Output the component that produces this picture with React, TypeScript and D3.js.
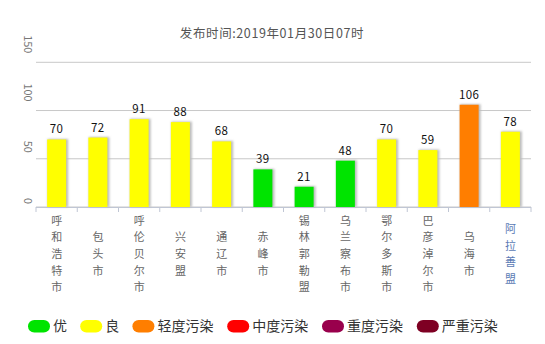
import React from "react";
import * as d3 from "d3";

const cities = ["呼和浩特市", "包头市", "呼伦贝尔市", "兴安盟", "通辽市", "赤峰市", "锡林郭勒盟", "乌兰察布市", "鄂尔多斯市", "巴彦淖尔市", "乌海市", "阿拉善盟"];
const aqi = [70, 72, 91, 88, 68, 39, 21, 48, 70, 59, 106, 78];
const yTicks = [0, 50, 100, 150];
const levels = ["优", "良", "轻度污染", "中度污染", "重度污染", "严重污染"];
const levelColors = ["#00e400", "#ffff00", "#ff7e00", "#ff0000", "#99004c", "#7e0023"];
const levelMax = [50, 100, 150, 200, 300, 500];
const title = "发布时间:2019年01月30日07时";

const FONT = "'Noto Sans CJK SC', 'DejaVu Sans', sans-serif";

function colorFor(v: number) {
  const i = levelMax.findIndex((m) => v <= m);
  return levelColors[i < 0 ? levelColors.length - 1 : i];
}

export default function App() {
  const W = 545, H = 344;
  const x = d3.scaleBand<string>().domain(cities).range([36, 531]);
  const y = d3.scaleLinear().domain([0, 150]).range([207, 62.3]);
  const bw = 19;

  let lx = 28;
  const legendItems = levels.map((l, i) => {
    const item = { l, c: levelColors[i], x: lx };
    lx += 22 + 3 + 14.2 * l.length + 13;
    return item;
  });

  return (
    <svg width={W} height={H} style={{ position: "absolute", left: 0, top: 0, fontFamily: FONT }}>
      <defs>
        <filter id="sh" x="-50%" y="-50%" width="200%" height="200%">
          <feGaussianBlur stdDeviation="1.2" />
        </filter>
      </defs>
      <text x={272} y={38} textAnchor="middle" fontSize={12.5} letterSpacing={0.6} fill="#555">{title}</text>

      {yTicks.map((t) => (
        <g key={t}>
          <line x1={36} x2={531} y1={y(t)} y2={y(t)} stroke="#c8c8c8" strokeWidth={1} />
          <text
            transform={`translate(23.5, ${y(t) - 6 * String(t).length}) rotate(90)`}
            textAnchor="middle"
            fontSize={11}
            fill="#777"
          >{t}</text>
        </g>
      ))}

      <line x1={36} x2={531} y1={207.5} y2={207.5} stroke="#c0c6d4" strokeWidth={1} />
      {d3.range(cities.length + 1).map((i) => {
        const xx = 36 + i * x.step();
        return <line key={i} x1={xx} x2={xx} y1={207} y2={212} stroke="#c0c6d4" strokeWidth={1} />;
      })}

      {cities.map((c, i) => {
        const cx = (x(c) as number) + x.bandwidth() / 2;
        const v = aqi[i];
        const top = y(v);
        return (
          <g key={c}>
            <rect x={cx - bw / 2 + 0.5} y={top - 0.5} width={bw + 1.5} height={207 - top + 0.5} fill="#bbb" filter="url(#sh)" />
            <rect x={cx - bw / 2} y={top} width={bw} height={207 - top} fill={colorFor(v)} />
            <text x={cx} y={top - 6} textAnchor="middle" fontSize={11.5} letterSpacing={0.4} fill="#111">{v}</text>
            {c.split("").map((ch, k) => {
              const n = c.length;
              const cy = 254 + (k - (n - 1) / 2) * 16.6;
              return (
                <text key={k} x={cx} y={cy + 4} textAnchor="middle" fontSize={11} fill={i === cities.length - 1 ? "#5b7bb5" : "#666"}>{ch}</text>
              );
            })}
          </g>
        );
      })}

      {legendItems.map((it) => (
        <g key={it.l}>
          <rect x={it.x} y={320} width={22} height={12.5} rx={6.25} fill={it.c} />
          <text x={it.x + 25} y={331} fontSize={14} fill="#333">{it.l}</text>
        </g>
      ))}
    </svg>
  );
}
